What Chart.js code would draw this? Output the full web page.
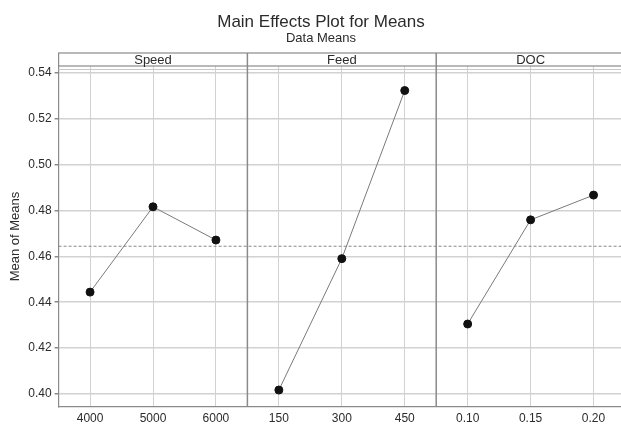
<!DOCTYPE html>
<html>
<head>
<meta charset="utf-8">
<script src="https://cdn.jsdelivr.net/npm/chart.js@4.4.1/dist/chart.umd.min.js"></script>
<style>
  html, body { margin: 0; padding: 0; background: #fff; overflow: hidden; }
  #wrap { width: 630px; height: 426px; }
</style>
</head>
<body>
<div id="wrap"><canvas id="chart"></canvas></div>
<script>
// factor levels (one panel per factor)
const factors = ['Speed', 'Feed', 'DOC'];
const speedLevels = ['4000', '5000', '6000'];
const feedLevels = ['150', '300', '450'];
const docLevels = ['0.10', '0.15', '0.20'];

// mean of means for each level
const speedMeans = [0.4444, 0.4816, 0.4671];
const feedMeans = [0.4017, 0.4590, 0.5323];
const docMeans = [0.4305, 0.4759, 0.4867];

const grandMean = 0.4644;
const yTicks = [0.40, 0.42, 0.44, 0.46, 0.48, 0.50, 0.52, 0.54];

const labels = [...speedLevels, ...feedLevels, ...docLevels];
const perPanel = speedLevels.length;

// put each factor's means on its own slice of the shared category axis
function panelData(values, panel) {
  const out = labels.map(() => null);
  values.forEach((v, i) => { out[panel * perPanel + i] = v; });
  return out;
}

const textColor = '#2b2b2b';
const gridColor = '#d2d2d2';
const frameColor = '#8a8a8a';
const fontFamily = '"Liberation Sans", Arial, sans-serif';

const panelPlugin = {
  id: 'panels',
  beforeDatasetsDraw(chart) {
    const { ctx, chartArea: a, scales: { y } } = chart;
    ctx.save();
    // grand mean reference line
    const gy = y.getPixelForValue(grandMean);
    ctx.strokeStyle = '#888';
    ctx.lineWidth = 1;
    ctx.setLineDash([3, 2]);
    ctx.beginPath();
    ctx.moveTo(a.left, gy);
    ctx.lineTo(a.right, gy);
    ctx.stroke();
    ctx.restore();
  },
  afterDraw(chart) {
    const { ctx, chartArea: a, scales: { x } } = chart;
    const step = x.getPixelForValue(1) - x.getPixelForValue(0);
    const headTop = a.top - 13;
    ctx.save();
    ctx.strokeStyle = frameColor;
    ctx.lineWidth = 1.2;
    // header strip
    ctx.strokeRect(a.left, headTop, a.right - a.left, a.top - headTop);
    ctx.beginPath();
    ctx.moveTo(a.left, a.top + 3.5);
    ctx.lineTo(a.right, a.top + 3.5);
    ctx.strokeStyle = '#c8c8c8';
    ctx.stroke();
    // panel dividers
    ctx.strokeStyle = frameColor;
    ctx.lineWidth = 1.5;
    for (let p = 1; p < factors.length; p++) {
      const px = x.getPixelForValue(p * perPanel) - step / 2;
      ctx.beginPath();
      ctx.moveTo(px, headTop);
      ctx.lineTo(px, a.bottom);
      ctx.stroke();
    }
    // panel names
    ctx.fillStyle = textColor;
    ctx.font = '13px ' + fontFamily;
    ctx.textAlign = 'center';
    ctx.textBaseline = 'middle';
    factors.forEach((f, p) => {
      const cx = x.getPixelForValue(p * perPanel + 1);
      ctx.fillText(f, cx, headTop + 7.5);
    });
    // titles
    ctx.font = '17px ' + fontFamily;
    ctx.fillText('Main Effects Plot for Means', 321, 22);
    ctx.font = '13px ' + fontFamily;
    ctx.fillText('Data Means', 321, 38);
    ctx.restore();
  }
};

const lineStyle = {
  borderColor: '#7a7a7a',
  borderWidth: 1,
  pointBackgroundColor: '#111',
  pointBorderColor: '#111',
  pointRadius: 4,
  pointHoverRadius: 4,
  spanGaps: false,
  tension: 0
};

new Chart(document.getElementById('chart'), {
  type: 'line',
  data: {
    labels: labels,
    datasets: [
      { label: factors[0], data: panelData(speedMeans, 0), ...lineStyle },
      { label: factors[1], data: panelData(feedMeans, 1), ...lineStyle },
      { label: factors[2], data: panelData(docMeans, 2), ...lineStyle }
    ]
  },
  options: {
    responsive: true,
    maintainAspectRatio: false,
    animation: false,
    layout: { padding: { top: 66, right: 4.6, bottom: 0, left: 0 } },
    plugins: {
      legend: { display: false },
      tooltip: { enabled: false }
    },
    scales: {
      x: {
        type: 'category',
        offset: true,
        grid: { offset: false, color: gridColor, lineWidth: 1, drawTicks: false },
        border: { color: frameColor, width: 1.2 },
        ticks: {
          color: textColor,
          font: { family: fontFamily, size: 12 },
          padding: 4,
          maxRotation: 0,
          autoSkip: false
        },
        afterFit(scale) { scale.height = 19; }
      },
      y: {
        min: 0.3943,
        max: 0.543,
        afterBuildTicks(scale) { scale.ticks = yTicks.map(v => ({ value: v })); },
        grid: { color: gridColor, lineWidth: 1.5, tickLength: 4, tickColor: frameColor },
        border: { color: frameColor, width: 1.2 },
        ticks: {
          color: textColor,
          font: { family: fontFamily, size: 12 },
          padding: 3,
          callback: v => v.toFixed(2)
        },
        title: {
          display: true,
          text: 'Mean of Means',
          color: textColor,
          font: { family: fontFamily, size: 13 },
          padding: { top: 8, bottom: 0 }
        },
        afterFit(scale) { scale.width = 58.6; }
      }
    }
  },
  plugins: [panelPlugin]
});
</script>
</body>
</html>
